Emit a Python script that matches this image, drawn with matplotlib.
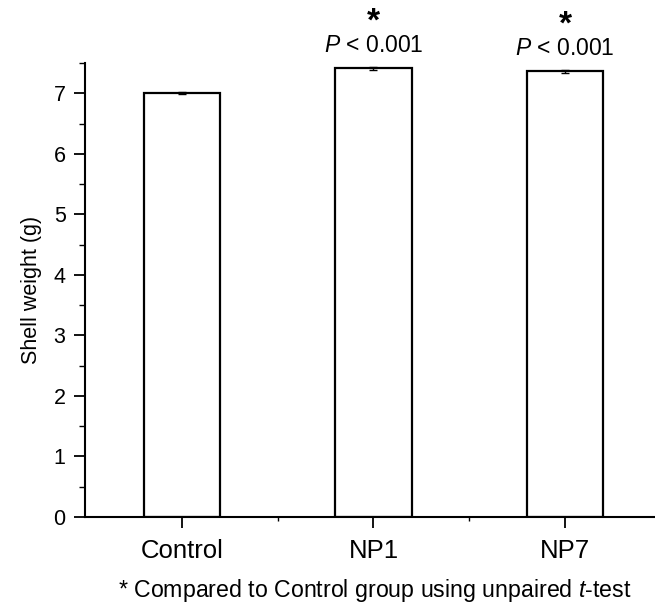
import matplotlib
matplotlib.use("Agg")
import matplotlib.pyplot as plt
from matplotlib.ticker import MultipleLocator

categories = ["Control", "NP1", "NP7"]
values = [7.0, 7.41, 7.36]
errors = [0.02, 0.02, 0.02]
annotations = ["", "P < 0.001", "P < 0.001"]
stars = ["", "*", "*"]

plt.rcParams['font.family'] = ['Liberation Sans', 'DejaVu Sans']
plt.rcParams['mathtext.fontset'] = 'custom'
plt.rcParams['mathtext.rm'] = 'Liberation Sans'
plt.rcParams['mathtext.it'] = 'Liberation Sans:italic'

fig = plt.figure(figsize=(6.55, 6.11), dpi=100)
ax = fig.add_axes([0.1298, 0.1538, 0.8702, 0.7431])

x = list(range(len(categories)))
ax.bar(x, values, width=0.40, color="white", edgecolor="black", linewidth=1.6,
       yerr=errors, error_kw=dict(ecolor="black", elinewidth=1.0, capsize=3, capthick=1.0))

ax.set_xlim(-0.506, 2.47)
ax.set_ylim(0, 7.5)
ax.yaxis.set_major_locator(MultipleLocator(1))
ax.yaxis.set_minor_locator(MultipleLocator(0.5))
ax.set_xticks(x)
ax.set_xticklabels(categories, fontsize=18.5)
ax.set_xticks([0.5, 1.5], minor=True)
ax.tick_params(axis="y", which="major", direction="out", length=8, width=1.3, labelsize=15.5, pad=6)
ax.tick_params(axis="y", which="minor", direction="out", length=4, width=1.0)
ax.tick_params(axis="x", which="major", direction="out", length=8, width=1.3, pad=8)
ax.tick_params(axis="x", which="minor", direction="out", length=3, width=1.0)

for s in ["top", "right"]:
    ax.spines[s].set_visible(False)
for s in ["left", "bottom"]:
    ax.spines[s].set_linewidth(1.5)

ax.set_ylabel("Shell weight (g)", fontsize=15.5, labelpad=8)

for xi, v, a, st in zip(x, values, annotations, stars):
    if a:
        ax.annotate("$\\it{P}$" + a[1:], (xi, v), xytext=(0, 12), textcoords="offset points",
                    ha="center", va="baseline", fontsize=16.5)
        ax.annotate(st, (xi, v), xytext=(0, 27), textcoords="offset points",
                    ha="center", va="baseline", fontsize=24, fontweight="bold")

fig.text(0.572, 0.034, "* Compared to Control group using unpaired $t$-test",
         ha="center", va="center", fontsize=16.7)

fig.savefig("out.png", dpi=100)
